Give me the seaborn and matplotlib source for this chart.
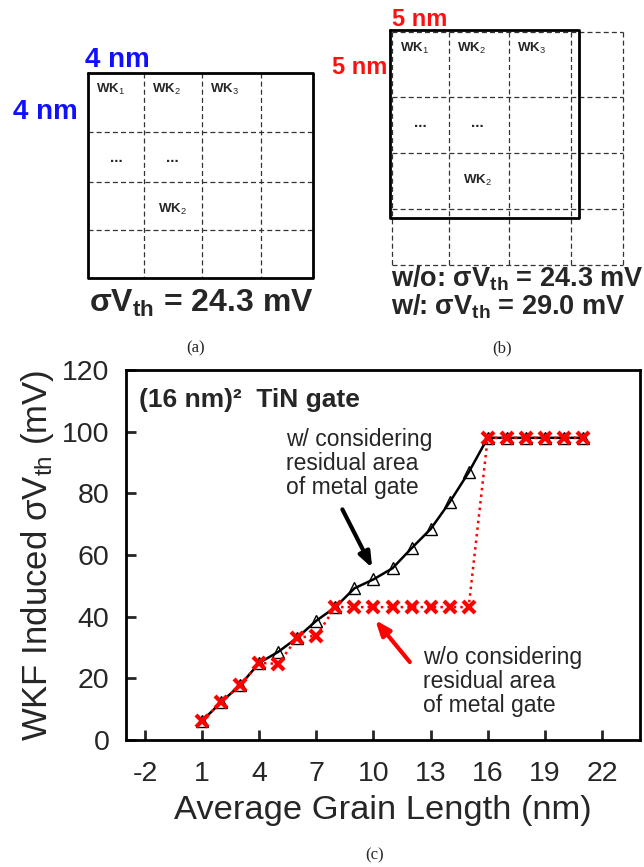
import numpy as np
import pandas as pd
import matplotlib
matplotlib.use("Agg")
import matplotlib.pyplot as plt
import seaborn as sns

# 数据
grain_len = [1, 2, 3, 4, 5, 6, 7, 8, 9, 10, 11, 12, 13, 14, 15, 16, 17, 18, 19, 20, 21]
with_resid = [6.2, 12.3, 17.8, 25.0, 28.6, 33.2, 38.7, 43.1, 49.2, 52.1, 55.7, 62.2, 68.4, 77.1, 86.8,
              98.0, 98.0, 98.0, 98.0, 98.0, 98.0]
without_resid = [6.2, 12.3, 17.8, 25.0, 24.7, 33.2, 33.8, 43.1, 43.1, 43.1, 43.1, 43.1, 43.1, 43.1, 43.1,
                 98.0, 98.0, 98.0, 98.0, 98.0, 98.0]
xticks = [-2, 1, 4, 7, 10, 13, 16, 19, 22]
yticks = [0, 20, 40, 60, 80, 100, 120]

# 示意图网格 (像素坐标)
a_xs = [88, 144, 202, 261, 313]
a_ys = [73, 132, 182, 230, 278]
b_xs = [392, 449, 509, 571, 623]
b_ys = [32, 97, 153, 209, 265]
b_box = (390, 30, 579, 218)

sns.set_style("ticks")
plt.rcParams['font.family'] = ['Liberation Sans', 'DejaVu Sans']
plt.rcParams['axes.unicode_minus'] = False
plt.rcParams['mathtext.fontset'] = 'custom'
plt.rcParams['mathtext.rm'] = 'Liberation Sans'
plt.rcParams['mathtext.bf'] = 'Liberation Sans:bold'
plt.rcParams['mathtext.it'] = 'Liberation Sans:italic'

W, H = 644, 867
fig = plt.figure(figsize=(W / 100, H / 100), dpi=100)

# ---- 主图 (c) ----
ax = fig.add_axes([126 / W, 1 - 740 / H, (640 - 126) / W, (740 - 370) / H])
df = pd.DataFrame({'x': grain_len, 'w': with_resid, 'wo': without_resid})
sns.lineplot(data=df, x='x', y='w', ax=ax, color='black', lw=1.8, marker='^', markersize=8,
             markerfacecolor='none', markeredgecolor='black', markeredgewidth=1.0, zorder=3)
sns.lineplot(data=df, x='x', y='wo', ax=ax, color='red', lw=1.8, linestyle=':', marker='x',
             markersize=9, markeredgecolor='red', markeredgewidth=3, zorder=4)

ax.set_xlim(-3, 24)
ax.set_ylim(0, 120)
ax.set_xticks(xticks)
ax.set_yticks(yticks)
ax.tick_params(direction='in', length=7, width=2, labelsize=20.5, pad=12,
               top=False, right=False)
ax.tick_params(axis='x', pad=15)
for s in ax.spines.values():
    s.set_linewidth(2)
    s.set_color('black')
    s.set_visible(True)
ax.set_xlabel('Average Grain Length (nm)', fontsize=24.8, labelpad=6)
ax.set_ylabel('WKF Induced σV$_{\\mathrm{th}}$ (mV)', fontsize=25, labelpad=4)

ax.text(-2.3, 110.3, '(16 nm)²  TiN gate', fontsize=19, fontweight='bold', va='center', ha='left')
ax.text(5.4, 89.6, 'w/ considering\nresidual area\nof metal gate', fontsize=16.5,
        va='center', ha='left', linespacing=1.05)
ax.text(12.6, 19.0, 'w/o considering\nresidual area\nof metal gate', fontsize=16.5,
        va='center', ha='left', linespacing=1.05)
ax.annotate('', xy=(10.0, 55.0), xytext=(8.3, 75.6),
            arrowprops=dict(arrowstyle='-|>,head_length=0.9,head_width=0.35', color='black', lw=3))
ax.annotate('', xy=(10.0, 39.6), xytext=(12.0, 24.6),
            arrowprops=dict(arrowstyle='-|>,head_length=0.9,head_width=0.35', color='red', lw=3))

# ---- 示意图 (a), (b) ----
ov = fig.add_axes([0, 0, 1, 1], zorder=-1)
ov.set_xlim(0, W)
ov.set_ylim(H, 0)
ov.axis('off')

def dashed_grid(xs, ys, outer=False):
    rng_x = xs if outer else xs[1:-1]
    rng_y = ys if outer else ys[1:-1]
    for x in rng_x:
        ov.plot([x, x], [ys[0], ys[-1]], color='#333333', lw=0.9, ls=(0, (4, 2.5)))
    for y in rng_y:
        ov.plot([xs[0], xs[-1]], [y, y], color='#333333', lw=0.9, ls=(0, (4, 2.5)))

def rect(x0, y0, x1, y1):
    ov.plot([x0, x1, x1, x0, x0], [y0, y0, y1, y1, y0], color='black', lw=2)

def wk_labels(xs, ys):
    for i, n in enumerate(['1', '2', '3']):
        ov.text(xs[i] + 8, ys[0] + 16, 'WK$_{%s}$' % n, fontsize=9.5, fontweight='bold', va='center')
    ov.text(xs[0] + 28, ys[1] + 26, '...', fontsize=11, fontweight='bold', ha='center', va='center')
    ov.text(xs[1] + 28, ys[1] + 26, '...', fontsize=11, fontweight='bold', ha='center', va='center')
    ov.text(xs[1] + 14, ys[2] + 27, 'WK$_{2}$', fontsize=9.5, fontweight='bold', va='center')

# (a)
dashed_grid(a_xs, a_ys)
rect(a_xs[0], a_ys[0], a_xs[-1], a_ys[-1])
wk_labels(a_xs, a_ys)
ov.text(117, 60, '4 nm', color='#1010ff', fontsize=20, fontweight='bold', ha='center', va='center')
ov.text(45, 112, '4 nm', color='#1010ff', fontsize=20, fontweight='bold', ha='center', va='center')
ov.text(201, 303, 'σV$_{\\mathbf{th}}$ = 24.3 mV', fontsize=23, fontweight='bold', ha='center', va='center')
ov.text(196, 348, '(a)', fontsize=12, family='Liberation Serif', ha='center', va='center')

# (b)
dashed_grid(b_xs, b_ys, outer=True)
rect(*b_box)
wk_labels(b_xs, b_ys)
ov.text(420, 19, '5 nm', color='#ff1010', fontsize=17, fontweight='bold', ha='center', va='center')
ov.text(360, 68, '5 nm', color='#ff1010', fontsize=17, fontweight='bold', ha='center', va='center')
ov.text(391, 279, 'w/o: σV$_{\\mathbf{th}}$ = 24.3 mV', fontsize=19.5, fontweight='bold', ha='left', va='center')
ov.text(391, 307, 'w/: σV$_{\\mathbf{th}}$ = 29.0 mV', fontsize=19.5, fontweight='bold', ha='left', va='center')
ov.text(502, 348, '(b)', fontsize=12, family='Liberation Serif', ha='center', va='center')

# (c)
ov.text(375, 855, '(c)', fontsize=12, family='Liberation Serif', ha='center', va='center')

fig.savefig('out.png', dpi=100)
